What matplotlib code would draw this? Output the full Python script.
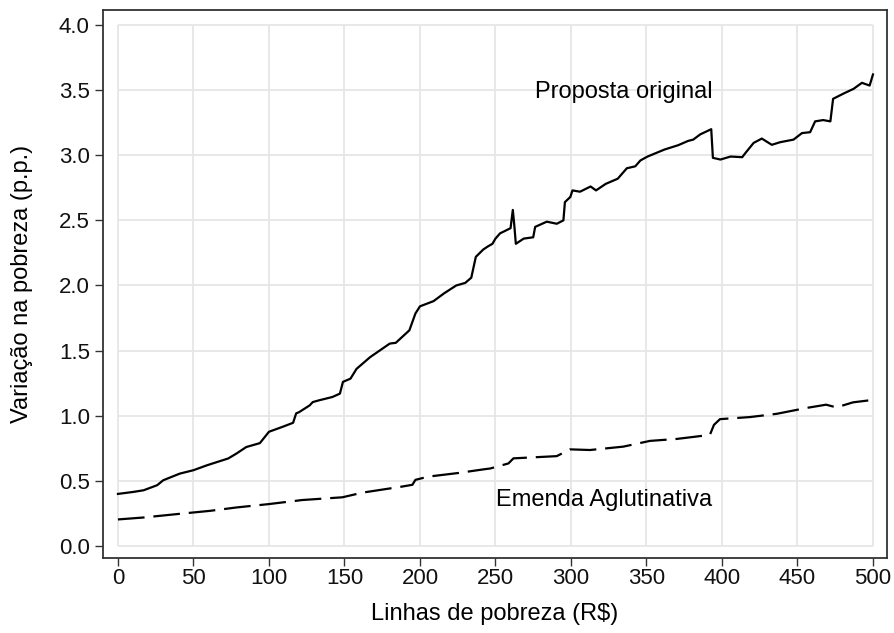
import matplotlib
matplotlib.use("Agg")
import matplotlib.pyplot as plt

plt.rcParams['font.family'] = ['Liberation Sans', 'DejaVu Sans']

# Poverty lines (R$) and change in poverty (p.p.)
orig_x = [0, 10, 17, 26, 30, 41, 50, 59, 73, 78.5, 85, 94, 100, 109, 116, 118, 120, 127,
          129, 133, 142, 147, 149, 154, 158, 167, 180, 184, 193, 197, 200, 209, 216, 224,
          230, 234, 237, 242, 245, 248, 250, 253, 260, 261.5, 262.5, 263.5, 268.7, 275,
          276.3, 284, 290.6, 295, 296, 299.6, 301, 306, 313, 316.6, 323, 331, 337, 342.6,
          346, 350.7, 362, 371, 377.6, 381, 385.6, 392.9, 394, 399, 405.7, 413.4, 415.6,
          421, 426.4, 433, 438.5, 447.4, 453, 458.4, 461.7, 467, 471.8, 473.6, 480.6,
          487.2, 492.7, 497.8, 500]
orig_y = [0.40, 0.415, 0.428, 0.467, 0.505, 0.556, 0.582, 0.62, 0.672, 0.71, 0.76, 0.79,
          0.877, 0.915, 0.946, 1.018, 1.028, 1.08, 1.105, 1.118, 1.144, 1.17, 1.26, 1.285,
          1.36, 1.45, 1.554, 1.56, 1.656, 1.785, 1.84, 1.88, 1.94, 2.0, 2.02, 2.06, 2.22,
          2.277, 2.30, 2.32, 2.36, 2.40, 2.44, 2.58, 2.46, 2.32, 2.36, 2.37, 2.45, 2.49,
          2.474, 2.50, 2.64, 2.68, 2.73, 2.72, 2.76, 2.73, 2.78, 2.82, 2.90, 2.915, 2.96,
          2.99, 3.044, 3.077, 3.11, 3.12, 3.16, 3.20, 2.98, 2.967, 2.99, 2.985, 3.018,
          3.095, 3.128, 3.08, 3.10, 3.12, 3.17, 3.177, 3.26, 3.27, 3.26, 3.433, 3.474,
          3.51, 3.556, 3.535, 3.62]

emenda_x = [0, 17, 39, 61, 78.5, 100, 122, 148.6, 162, 188, 195, 197, 205.6, 225, 243,
            246.5, 258.6, 261.9, 290.6, 299.4, 312.6, 334.7, 352.3, 370, 392, 394.7,
            398.7, 418.6, 436.3, 456, 469, 475.8, 486.8, 498, 500]
emenda_y = [0.204, 0.219, 0.245, 0.27, 0.296, 0.322, 0.353, 0.374, 0.41, 0.456, 0.47,
            0.508, 0.533, 0.56, 0.59, 0.595, 0.634, 0.673, 0.69, 0.742, 0.737, 0.763,
            0.807, 0.822, 0.853, 0.93, 0.974, 0.99, 1.015, 1.06, 1.085, 1.064, 1.103,
            1.119, 1.15]

x_ticks = [0, 50, 100, 150, 200, 250, 300, 350, 400, 450, 500]
y_ticks = [0.0, 0.5, 1.0, 1.5, 2.0, 2.5, 3.0, 3.5, 4.0]

fig = plt.figure(figsize=(8.94, 6.33), dpi=100)
ax = fig.add_axes([103/894, 1 - 558/633, (887-103)/894, (558-10)/633])

grid_kw = dict(color='#e6e6e6', linewidth=1.3, zorder=0)
ax.hlines(y_ticks, x_ticks[0], x_ticks[-1], **grid_kw)
ax.vlines(x_ticks, y_ticks[0], y_ticks[-1], **grid_kw)

ax.plot(orig_x, orig_y, color='black', linewidth=1.6, zorder=3)
ax.plot(emenda_x, emenda_y, color='black', linewidth=1.6, dashes=[12, 4], zorder=3)

ax.text(276, 3.485, 'Proposta original', fontsize=17, va='center', ha='left')
ax.text(250.5, 0.351, 'Emenda Aglutinativa', fontsize=17, va='center', ha='left')

ax.set_xlim(-9.9, 509.3)
ax.set_ylim(-0.092, 4.115)
ax.set_xticks(x_ticks)
ax.set_yticks(y_ticks)
ax.set_xticklabels([str(v) for v in x_ticks])
ax.set_yticklabels([f"{v:.1f}" for v in y_ticks])
ax.tick_params(axis='both', direction='out', length=5.5, width=1.0, color='#333333',
               labelsize=16, labelcolor='#111111')
ax.tick_params(axis='x', pad=2)
ax.tick_params(axis='y', pad=4)

for s in ax.spines.values():
    s.set_color('#333333')
    s.set_linewidth(1.3)

ax.set_xlabel('Linhas de pobreza (R$)', fontsize=17)
ax.set_ylabel('Variação na pobreza (p.p.)', fontsize=17)
ax.xaxis.set_label_coords(0.5, (558 - 603) / 548)
ax.yaxis.set_label_coords((33 - 103) / 784, 0.5)

fig.savefig('out.png', dpi=100)
